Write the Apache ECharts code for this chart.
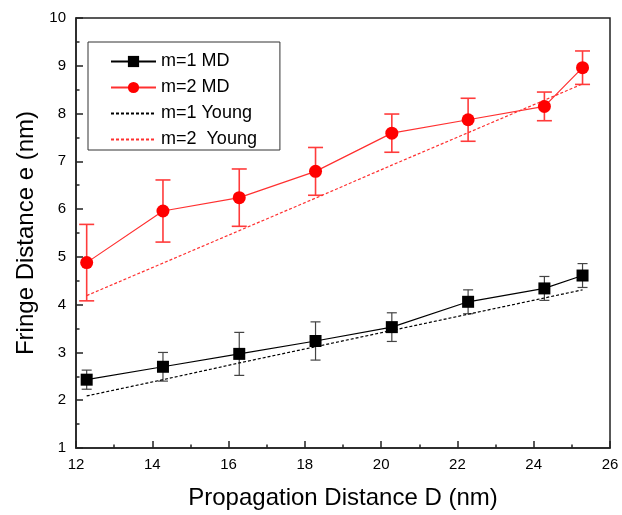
<!DOCTYPE html>
<html>
<head>
<meta charset="utf-8">
<script src="https://cdn.jsdelivr.net/npm/echarts@6/dist/echarts.min.js"></script>
<style>
html,body{margin:0;padding:0;background:#fff;}
#chart{width:622px;height:515px;}
</style>
</head>
<body>
<div id="chart"></div>
<script>
const xD = [12.28, 14.28, 16.28, 18.28, 20.28, 22.28, 24.28, 25.28];
const m1MD = [2.43, 2.70, 2.97, 3.24, 3.53, 4.06, 4.34, 4.61];
const m1Err = [0.20, 0.30, 0.45, 0.40, 0.30, 0.25, 0.25, 0.25];
const m2MD = [4.88, 5.96, 6.24, 6.79, 7.59, 7.87, 8.15, 8.96];
const m2Err = [0.80, 0.65, 0.60, 0.50, 0.40, 0.45, 0.30, 0.35];
const m1Young = [2.09, 2.43, 2.78, 3.12, 3.46, 3.80, 4.14, 4.31];
const m2Young = [4.19, 4.87, 5.55, 6.23, 6.92, 7.60, 8.28, 8.62];
const seriesNames = ['m=1 MD', 'm=2 MD', 'm=1 Young', 'm=2  Young'];

const FONT = 'Liberation Sans, Arial, sans-serif';

function pairs(ys) { return xD.map((x, i) => [x, ys[i]]); }
function errData(ys, es) { return xD.map((x, i) => [x, ys[i] - es[i], ys[i] + es[i]]); }
function errRenderer(capW, color, lw) {
  return function (params, api) {
    const x = api.value(0);
    const lo = api.coord([x, api.value(1)]);
    const hi = api.coord([x, api.value(2)]);
    const st = { stroke: color, lineWidth: lw };
    return {
      type: 'group',
      children: [
        { type: 'line', shape: { x1: hi[0], y1: hi[1], x2: lo[0], y2: lo[1] }, style: st },
        { type: 'line', shape: { x1: hi[0] - capW / 2, y1: hi[1], x2: hi[0] + capW / 2, y2: hi[1] }, style: st },
        { type: 'line', shape: { x1: lo[0] - capW / 2, y1: lo[1], x2: lo[0] + capW / 2, y2: lo[1] }, style: st }
      ]
    };
  };
}

const chart = echarts.init(document.getElementById('chart'));
chart.setOption({
  animation: false,
  backgroundColor: '#fff',
  textStyle: { fontFamily: FONT },
  grid: { left: 76, right: 12, top: 18, bottom: 64, show: true, borderColor: '#222', borderWidth: 1.5, backgroundColor: 'transparent' },
  legend: {
    orient: 'vertical',
    left: 88, top: 42,
    data: [
      { name: seriesNames[0] },
      { name: seriesNames[1] },
      { name: seriesNames[2], itemStyle: { color: 'rgba(0,0,0,0)', borderWidth: 0, opacity: 0 } },
      { name: seriesNames[3], itemStyle: { color: 'rgba(0,0,0,0)', borderWidth: 0, opacity: 0 } }
    ],
    itemWidth: 45, itemHeight: 14, itemGap: 7,
    padding: [10, 23, 1, 22],
    borderColor: '#333', borderWidth: 1,
    textStyle: { fontSize: 18, color: '#000', fontFamily: FONT, lineHeight: 19 }
  },
  xAxis: {
    type: 'value', min: 12, max: 26, interval: 2,
    name: 'Propagation Distance D (nm)', nameLocation: 'middle', nameGap: 38,
    nameTextStyle: { fontSize: 24, color: '#000', fontFamily: FONT },
    axisLine: { lineStyle: { color: '#222', width: 1.5 } },
    axisTick: { inside: true, length: 7, lineStyle: { color: '#222', width: 1.5 } },
    minorTick: { show: true, splitNumber: 2, length: 3.5, lineStyle: { color: '#222', width: 1.5 } },
    axisLabel: { fontSize: 15, color: '#000', margin: 9, fontFamily: FONT },
    splitLine: { show: false }
  },
  yAxis: {
    type: 'value', min: 1, max: 10, interval: 1,
    name: 'Fringe Distance e (nm)', nameLocation: 'middle', nameGap: 38,
    nameTextStyle: { fontSize: 24, color: '#000', fontFamily: FONT },
    axisLine: { show: true, lineStyle: { color: '#222', width: 1.5 } },
    axisTick: { show: true, inside: true, length: 7, lineStyle: { color: '#222', width: 1.5 } },
    minorTick: { show: true, splitNumber: 2, length: 3.5, lineStyle: { color: '#222', width: 1.5 } },
    axisLabel: { fontSize: 15, color: '#000', margin: 10, fontFamily: FONT },
    splitLine: { show: false }
  },
  series: [
    {
      name: 'm1err', type: 'custom', renderItem: errRenderer(10, '#444', 1.2),
      data: errData(m1MD, m1Err), encode: { x: 0, y: [1, 2] }, z: 1, silent: true
    },
    {
      name: 'm2err', type: 'custom', renderItem: errRenderer(15, '#ff3b3b', 1.6),
      data: errData(m2MD, m2Err), encode: { x: 0, y: [1, 2] }, z: 1, silent: true
    },
    {
      name: seriesNames[0], type: 'line', data: pairs(m1MD),
      symbol: 'rect', symbolSize: 12,
      itemStyle: { color: '#000' }, lineStyle: { color: '#000', width: 1.2 }, z: 5
    },
    {
      name: seriesNames[1], type: 'line', data: pairs(m2MD),
      symbol: 'circle', symbolSize: 13,
      itemStyle: { color: '#ff0000' }, lineStyle: { color: '#ff3030', width: 1.2 }, z: 5
    },
    {
      name: seriesNames[2], type: 'line', data: pairs(m1Young),
      symbol: 'none',
      itemStyle: { color: '#000' }, lineStyle: { color: '#000', width: 1.2, type: [3, 2] }, z: 3
    },
    {
      name: seriesNames[3], type: 'line', data: pairs(m2Young),
      symbol: 'none',
      itemStyle: { color: '#ff3030' }, lineStyle: { color: '#ff3030', width: 1.2, type: [3, 2] }, z: 3
    }
  ]
});
</script>
</body>
</html>
